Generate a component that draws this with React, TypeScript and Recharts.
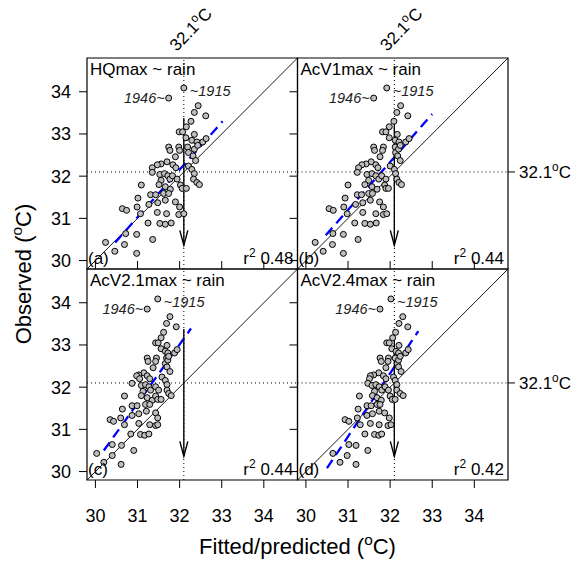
import React from 'react';
import { ScatterChart, Scatter, XAxis, YAxis, ReferenceLine, ReferenceArea, ReferenceDot } from 'recharts';

// observed summer max temperature, same for every panel
const observed = [
  33.85, 34.09, 33.67, 33.51, 33.43, 33.3, 33.17, 33.05, 33.05, 32.99,
  32.91, 32.85, 32.81, 32.81, 32.89, 32.69, 32.61, 32.69, 32.61, 32.46,
  32.69, 32.56, 32.64, 32.73, 32.48, 32.37, 32.34, 32.29, 32.27, 32.2,
  32.27, 32.2, 32.24, 32.16, 32.06, 31.93, 31.85, 31.8, 32.09, 32.04,
  32.06, 32.01, 31.93, 32.01, 31.93, 31.9, 31.8, 31.75, 31.69, 31.79,
  31.56, 31.56, 31.59, 31.59, 31.79, 31.71, 31.71, 31.48, 31.27, 31.33,
  31.37, 31.43, 31.39, 31.27, 31.23, 31.19, 31.11, 31.14, 31.11, 31.09,
  31.11, 30.89, 30.88, 30.86, 30.89, 30.64, 30.62, 30.5, 30.43, 30.38,
  30.22, 30.17,
];

// fitted / predicted values per model
const fitHQ = [
  31.74, 32.1, 32.44, 32.35, 32.62, 32.27, 32.16, 31.99, 32.07, 32.35,
  32.15, 32.29, 32.41, 32.55, 32.63, 31.74, 31.77, 31.98, 32.0, 31.9,
  32.19, 32.21, 32.35, 32.43, 32.32, 32.38, 31.7, 31.56, 31.47, 31.35,
  31.84, 31.91, 32.21, 32.29, 32.35, 32.33, 32.41, 32.47, 31.35, 31.53,
  31.64, 31.72, 31.77, 31.83, 31.94, 31.56, 31.51, 31.66, 31.78, 31.09,
  31.31, 31.43, 31.62, 31.74, 32.02, 32.06, 32.16, 31.01, 30.99, 31.27,
  31.48, 31.66, 31.9, 32.0, 30.64, 30.74, 31.07, 31.47, 31.69, 31.98,
  32.1, 31.25, 31.53, 31.66, 31.8, 30.72, 30.98, 31.36, 30.24, 30.69,
  30.46, 30.98,
];
const fitAcV1 = [
  31.61, 31.92, 32.25, 32.16, 32.42, 32.09, 31.98, 31.82, 31.9, 32.17,
  31.98, 32.12, 32.21, 32.37, 32.45, 31.61, 31.63, 31.84, 31.82, 31.76,
  32.12, 32.13, 32.2, 32.24, 32.18, 32.24, 31.55, 31.43, 31.33, 31.25,
  31.66, 31.71, 32.0, 32.1, 32.13, 32.16, 32.21, 32.27, 31.22, 31.45,
  31.57, 31.66, 31.73, 31.8, 31.9, 31.49, 31.4, 31.57, 31.69, 31.0,
  31.22, 31.32, 31.49, 31.58, 31.87, 31.9, 31.96, 30.93, 30.9, 31.18,
  31.35, 31.53, 31.75, 31.84, 30.55, 30.65, 30.98, 31.35, 31.66, 31.84,
  31.92, 31.16, 31.4, 31.53, 31.67, 30.64, 30.89, 31.24, 30.22, 30.63,
  30.41, 30.89,
];
const fitAcV21 = [
  31.23, 31.48, 31.77, 31.69, 31.92, 31.62, 31.56, 31.43, 31.49, 31.7,
  31.56, 31.66, 31.72, 31.88, 31.94, 31.23, 31.25, 31.45, 31.43, 31.37,
  31.69, 31.66, 31.72, 31.74, 31.7, 31.77, 31.15, 31.03, 30.98, 31.05,
  31.23, 31.29, 31.58, 31.66, 31.7, 31.7, 31.74, 31.8, 30.87, 31.09,
  31.19, 31.27, 31.31, 31.43, 31.5, 31.13, 31.09, 31.23, 31.35, 30.69,
  30.87, 30.99, 31.19, 31.29, 31.43, 31.48, 31.56, 30.64, 30.6, 30.87,
  31.03, 31.21, 31.43, 31.48, 30.35, 30.43, 30.69, 31.03, 31.29, 31.43,
  31.48, 30.84, 31.07, 31.17, 31.27, 30.4, 30.62, 30.91, 30.03, 30.4,
  30.2, 30.61,
];
const fitAcV24 = [
  31.76, 32.02, 32.3, 32.21, 32.42, 32.13, 32.06, 31.92, 31.98, 32.21,
  32.04, 32.14, 32.2, 32.37, 32.43, 31.76, 31.79, 31.96, 31.95, 31.9,
  32.12, 32.17, 32.2, 32.24, 32.2, 32.26, 31.73, 31.61, 31.53, 31.51,
  31.84, 31.9, 32.08, 32.12, 32.16, 32.16, 32.24, 32.31, 31.47, 31.57,
  31.66, 31.74, 31.8, 31.88, 31.96, 31.63, 31.58, 31.69, 31.79, 31.27,
  31.45, 31.55, 31.69, 31.76, 32.0, 32.05, 32.12, 31.24, 31.22, 31.45,
  31.58, 31.74, 31.87, 31.98, 30.93, 31.02, 31.29, 31.53, 31.74, 31.95,
  32.02, 31.4, 31.63, 31.73, 31.8, 31.02, 31.19, 31.47, 30.64, 30.98,
  30.81, 31.19,
];

const modelNames = ['HQmax ~ rain', 'AcV1max ~ rain', 'AcV2.1max ~ rain', 'AcV2.4max ~ rain'];
const panelTags = ['(a)', '(b)', '(c)', '(d)'];
const rSquared = ['0.48', '0.44', '0.44', '0.42'];
// dashed regression line: start and end (x, y)
const regStart = [[30.47, 30.43], [30.47, 30.6], [30.2, 30.5], [30.5, 30.08]];
const regEnd = [[33.02, 33.3], [33.0, 33.47], [32.27, 33.39], [32.67, 33.33]];
const axisTicks = [30, 31, 32, 33, 34];
const threshold = 32.1;
const arrowTop = 33.38;
const arrowTip = 30.36;
const yearNotes = [
  { i: 0, text: '1946~', side: 'left' },
  { i: 1, text: '~1915', side: 'right' },
];

const fits = [fitHQ, fitAcV1, fitAcV21, fitAcV24];
const DOMAIN: [number, number] = [29.8, 34.8];

const W = 576;
const H = 563;
const LEFT = 87;
const TOP = 58;
const PW = 210.5;
const PH = 211;
const AX = 30; // space given to every axis
const TICK = 8; // tick length
const FONT = '"Liberation Sans", Arial, Helvetica, sans-serif';

const Dot = (p: any) => (
  <circle cx={p.cx} cy={p.cy} r={3} fill="#bebebe" stroke="#000" strokeWidth={1} />
);

const Arrow = (p: any) => (
  <g stroke="#000" strokeWidth={1.4} fill="none">
    <line x1={p.x1} y1={p.y1} x2={p.x2} y2={p.y2} />
    <polyline points={`${p.x2 - 4},${p.y2 - 15} ${p.x2},${p.y2} ${p.x2 + 4},${p.y2 - 15}`} />
  </g>
);

const Degree = ({ size }: { size: number }) => (
  <>
    <tspan dy={-size * 0.42} fontSize={size * 0.7}>o</tspan>
    <tspan dy={size * 0.42}>C</tspan>
  </>
);

// tick labels (tickSize is TICK and tickMargin 0, so x/y is the outer tick end)
const LeftLabel = (p: any) => (
  <text x={p.x - 8} y={p.y} dy={6.5} textAnchor="end" fontSize={18} fontFamily={FONT} fill="#000">
    {p.payload.value}
  </text>
);

const BottomLabel = (p: any) => (
  <text x={p.x} y={p.y + 34} textAnchor="middle" fontSize={18} fontFamily={FONT} fill="#000">
    {p.payload.value}
  </text>
);

const RightLabel = (p: any) => (
  <text x={p.x + 3} y={p.y} dy={6} textAnchor="start" fontSize={17} fontFamily={FONT} fill="#000">
    {p.payload.value}
    <Degree size={17} />
  </text>
);

// rotated "32.1°C" above the top panels, hung on the dotted threshold line
const topLabel = (p: any) => {
  const vb = p.viewBox || {};
  const x = vb.x - 7;
  const y = vb.y - 6;
  return (
    <text x={x} y={y} transform={`rotate(-46 ${x} ${y})`} fontSize={17} fontFamily={FONT} fill="#000">
      {threshold}
      <Degree size={17} />
    </text>
  );
};

function Panel({ k }: { k: number }) {
  const col = k % 2;
  const row = Math.floor(k / 2);
  const left = LEFT + col * PW;
  const top = TOP + row * PH;
  const hasRight = col === 1;
  const margin = {
    left: left - AX,
    top,
    right: W - left - PW - (hasRight ? AX : 0),
    bottom: H - top - PH - (row === 1 ? AX : 0),
  };
  const data = fits[k].map((x, i) => ({ x, y: observed[i] }));
  const common = {
    type: 'number' as const,
    domain: DOMAIN,
    allowDataOverflow: true,
    axisLine: false,
    tickLine: false,
    tickSize: TICK,
    tickMargin: 0,
    interval: 0 as const,
  };

  return (
    <div style={{ position: 'absolute', left: 0, top: 0 }}>
      <ScatterChart width={W} height={H} margin={margin}>
        <XAxis
          {...common}
          dataKey="x"
          ticks={axisTicks}
          orientation="bottom"
          height={row === 1 ? AX : 0}
          hide={row === 0}
          tick={<BottomLabel />}
        />
        <YAxis
          {...common}
          dataKey="y"
          ticks={axisTicks}
          orientation="left"
          width={AX}
          tick={col === 0 ? <LeftLabel /> : false}
        />
        {hasRight && (
          <YAxis {...common} yAxisId="right" ticks={[threshold]} orientation="right" width={AX} tick={<RightLabel />} />
        )}
        <Scatter data={data} shape={Dot} isAnimationActive={false} />
        <ReferenceLine
          x={threshold}
          stroke="#000"
          strokeDasharray="1 3"
          ifOverflow="visible"
          label={row === 0 ? { content: topLabel } : undefined}
        />
        <ReferenceLine y={threshold} stroke="#000" strokeDasharray="1 3" ifOverflow="visible" />
        <ReferenceLine
          segment={[{ x: DOMAIN[0], y: DOMAIN[0] }, { x: DOMAIN[1], y: DOMAIN[1] }]}
          stroke="#000"
          strokeWidth={0.9}
          ifOverflow="visible"
        />
        <ReferenceLine
          segment={[{ x: regStart[k][0], y: regStart[k][1] }, { x: regEnd[k][0], y: regEnd[k][1] }]}
          stroke="#0000ff"
          strokeWidth={2.3}
          strokeDasharray="10 6"
          ifOverflow="visible"
        />
        <ReferenceLine
          segment={[{ x: threshold, y: arrowTop }, { x: threshold, y: arrowTip }]}
          shape={Arrow}
          ifOverflow="visible"
        />
        {yearNotes.map((n) => (
          <ReferenceDot
            key={n.text}
            x={fits[k][n.i]}
            y={observed[n.i]}
            r={3}
            ifOverflow="visible"
            shape={(p: any) => (
              <text
                x={n.side === 'left' ? p.cx - 4 : p.cx + 6}
                y={n.side === 'left' ? p.cy + 5 : p.cy + 8.5}
                textAnchor={n.side === 'left' ? 'end' : 'start'}
                fontStyle="italic"
                fontSize={14.5}
                fontFamily={FONT}
                fill="#222"
              >
                {n.text}
              </text>
            )}
          />
        ))}
        <ReferenceArea
          x1={DOMAIN[0]}
          x2={DOMAIN[1]}
          y1={DOMAIN[0]}
          y2={DOMAIN[1]}
          fill="none"
          fillOpacity={0}
          stroke="#000"
          strokeWidth={1.2}
          ifOverflow="visible"
        />
      </ScatterChart>
    </div>
  );
}

// same linear mapping the panels use, for the outward tick marks
const toX = (v: number, l: number) => l + ((v - DOMAIN[0]) / (DOMAIN[1] - DOMAIN[0])) * PW;
const toY = (v: number, t: number) => t + ((DOMAIN[1] - v) / (DOMAIN[1] - DOMAIN[0])) * PH;

function Overlay() {
  return (
    <svg
      width={W}
      height={H}
      style={{ position: 'absolute', left: 0, top: 0, pointerEvents: 'none' }}
      fontFamily={FONT}
      fill="#000"
    >
      {modelNames.map((name, k) => {
        const col = k % 2;
        const row = Math.floor(k / 2);
        const l = LEFT + col * PW;
        const t = TOP + row * PH;
        const b = t + PH;
        const r = l + PW;
        return (
          <g key={name}>
            <g stroke="#000" strokeWidth={1}>
              {axisTicks.map((v) => (
                <line key={`l${v}`} x1={l - TICK} x2={l} y1={toY(v, t)} y2={toY(v, t)} />
              ))}
              {row === 1 &&
                axisTicks.map((v) => (
                  <g key={`x${v}`}>
                    <line x1={toX(v, l)} x2={toX(v, l)} y1={b} y2={b + TICK} />
                    <line x1={toX(v, l)} x2={toX(v, l)} y1={t - TICK} y2={t} />
                  </g>
                ))}
              {col === 1 && (
                <line x1={r} x2={r + 7} y1={toY(threshold, t)} y2={toY(threshold, t)} />
              )}
            </g>
            <text x={l + 3} y={t + 17} fontSize={17}>{name}</text>
            <text x={l + 1} y={b - 5} fontSize={17}>{panelTags[k]}</text>
            <text x={r - 4} y={b - 5} fontSize={17} textAnchor="end">
              r<tspan dy={-7} fontSize={12}>2</tspan>
              <tspan dy={7}> {rSquared[k]}</tspan>
            </text>
          </g>
        );
      })}
      <text x={LEFT + PW} y={554} fontSize={22} textAnchor="middle">
        Fitted/predicted (<Degree size={22} />)
      </text>
      <text x={31} y={274} fontSize={22} textAnchor="middle" transform="rotate(-90 31 274)">
        Observed (<Degree size={22} />)
      </text>
    </svg>
  );
}

export default function App() {
  return (
    <div style={{ position: 'absolute', left: 0, top: 0, width: W, height: H, background: '#fff' }}>
      {[0, 1, 2, 3].map((k) => (
        <Panel key={k} k={k} />
      ))}
      <Overlay />
    </div>
  );
}
